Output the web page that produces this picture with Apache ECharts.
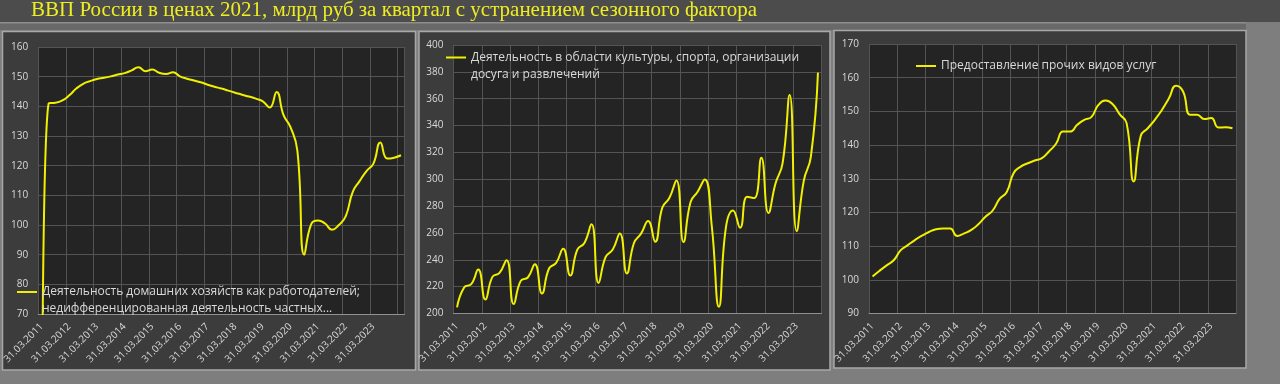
<!DOCTYPE html>
<html>
<head>
<meta charset="utf-8">
<script src="https://cdn.jsdelivr.net/npm/echarts@6/dist/echarts.min.js"></script>
<style>
html,body{margin:0;padding:0;background:#7e7e7e;}
#chart{width:1280px;height:384px;}
</style>
</head>
<body>
<div id="chart"></div>
<script>
// ---- data ----
const titleText = 'ВВП России в ценах 2021, млрд руб за квартал с устранением сезонного фактора';
const years = [2011,2012,2013,2014,2015,2016,2017,2018,2019,2020,2021,2022,2023,2024];
const quarterEnds = ['31.03','30.06','30.09','31.12'];

const name1 = 'Деятельность домашних хозяйств как работодателей; недифференцированная деятельность частных...';
const name2 = 'Деятельность в области культуры, спорта, организации досуга и развлечений';
const name3 = 'Предоставление прочих видов услуг';

const values1 = [0, 141, 141.2, 142, 143.7, 146, 147.6, 148.5, 149.2, 149.6, 150.1, 150.7, 151.2, 152.1, 153.2, 151.8,
  152.4, 151.3, 150.9, 151.5, 150.1, 149.3, 148.7, 148.1, 147.3, 146.6, 146, 145.3, 144.6, 143.9, 143.3, 142.6,
  141.7, 139.6, 144.8, 137, 133, 125, 90, 100.3, 101.5, 100.5, 98.4, 100, 103, 111.1, 114.8, 118.2, 120.7, 127.8,
  122.4, 122.7, 123.5];
const values2 = [204.5, 219.4, 221.8, 232.7, 210.4, 227.3, 230.2, 239.7, 207, 224.3, 226.8, 236.7, 214.9, 233.5, 237.7, 248.3,
  228.3, 247.6, 252.5, 266.4, 222.8, 242.1, 247.6, 259.5, 229.8, 252.5, 259.5, 268.9, 253.5, 278.8, 286, 299,
  253.3, 283, 290.7, 299.9, 265, 205, 264.4, 276.8, 263.9, 287, 286, 316, 274.8, 296.9, 311.8, 362.7,
  261.4, 299, 316.8, 379.4];
const values3 = [101, 102.7, 104.3, 105.8, 108.8, 110.3, 111.8, 113.1, 114.2, 115, 115.2, 115.2, 113, 113.8, 114.8, 116.5,
  118.7, 120.5, 124, 126, 131.7, 133.6, 134.6, 135.4, 136.1, 138.1, 140.4, 144, 144, 146, 147.5, 148.3,
  151.9, 153.2, 152.2, 149.2, 146.5, 129.2, 142.7, 145, 147.5, 150.4, 153.9, 157.6, 155.9, 149, 149, 147.7,
  148, 145.2, 145.3, 145];

const yMin = [70, 200, 90];
const yMax = [160, 400, 170];
const yStep = [10, 20, 10];

// categories (quarter-end dates)
const allCats = [];
years.forEach(y => quarterEnds.forEach(q => allCats.push(q + '.' + y)));
const cats1 = allCats.slice(0, values1.length);
const cats2 = allCats.slice(0, values2.length);
const cats3 = allCats.slice(0, values3.length);

// ---- styles ----
const LINE = '#f0f000';
const LABEL = '#d9d9d9';
const GRIDLINE = '#545454';
const FONT = 'Open Sans';

const grids = [
  {left: 38, top: 47, width: 366.5, height: 267},
  {left: 453.5, top: 45, width: 368, height: 268.5},
  {left: 869, top: 44, width: 367, height: 269.5}
];

function xAxisCfg(i, cats, maxLabelIdx) {
  return {
    gridIndex: i, type: 'category', data: cats, boundaryGap: true,
    axisLine: {show: true, lineStyle: {color: '#909090', width: 1}},
    axisTick: {show: false, interval: 3},
    splitLine: {show: true, interval: 3, lineStyle: {color: GRIDLINE, width: 1}},
    axisLabel: {
      interval: (idx) => idx % 4 === 0 && idx <= maxLabelIdx,
      rotate: 45, color: LABEL, fontSize: 10, fontFamily: FONT, margin: 11
    }
  };
}
function yAxisCfg(i) {
  return {
    gridIndex: i, type: 'value', min: yMin[i], max: yMax[i], interval: yStep[i],
    axisLine: {show: false}, axisTick: {show: false},
    splitLine: {show: true, lineStyle: {color: GRIDLINE, width: 1}},
    axisLabel: {color: LABEL, fontSize: 10, fontFamily: FONT, margin: 10}
  };
}
function seriesCfg(i, name, data) {
  return {
    type: 'line', name: name, xAxisIndex: i, yAxisIndex: i, data: data,
    smooth: 0.5, symbol: 'none', clip: true,
    lineStyle: {color: LINE, width: 2}, itemStyle: {color: LINE}
  };
}
const legendText = {color: LABEL, fontSize: 12, fontFamily: FONT, lineHeight: 17};

const chart = echarts.init(document.getElementById('chart'), null, {renderer: 'canvas'});
chart.setOption({
  backgroundColor: '#7e7e7e',
  animation: false,
  title: {
    text: titleText, left: 31, top: 0, padding: 0,
    textStyle: {color: '#eeee22', fontFamily: 'Liberation Serif', fontSize: 21, fontWeight: 'normal', lineHeight: 21}
  },
  graphic: [
    {type: 'rect', z: -10, silent: true, shape: {x: 0, y: 0, width: 1280, height: 22}, style: {fill: '#4c4c4c'}},
    {type: 'rect', z: -10, silent: true, shape: {x: 0, y: 22, width: 1246, height: 8}, style: {fill: '#696969'}},
    {type: 'rect', z: -9, silent: true, shape: {x: 0, y: 22, width: 1246, height: 1.5}, style: {fill: '#8e8e8e'}},
    {type: 'rect', z: -9, silent: true, shape: {x: 2.5, y: 31.5, width: 413, height: 338.5}, style: {fill: '#3c3c3c', stroke: '#a8a8a8', lineWidth: 1.5}},
    {type: 'rect', z: -9, silent: true, shape: {x: 419, y: 31.5, width: 411, height: 338.5}, style: {fill: '#3c3c3c', stroke: '#a8a8a8', lineWidth: 1.5}},
    {type: 'rect', z: -9, silent: true, shape: {x: 834, y: 30.5, width: 412, height: 337.5}, style: {fill: '#3c3c3c', stroke: '#a8a8a8', lineWidth: 1.5}}
  ],
  grid: grids.map(g => Object.assign({show: true, backgroundColor: '#242424', borderWidth: 0, containLabel: false}, g)),
  xAxis: [xAxisCfg(0, cats1, 48), xAxisCfg(1, cats2, 48), xAxisCfg(2, cats3, 48)],
  yAxis: [yAxisCfg(0), yAxisCfg(1), yAxisCfg(2)],
  legend: [
    {data: [name1], left: 17, top: 266.5, padding: 0, icon: 'rect', itemWidth: 20, itemHeight: 2,
     formatter: n => '\n' + n.replace('; ', ';\n'),
     textStyle: legendText},
    {data: [name2], left: 446, top: 32, padding: 0, icon: 'rect', itemWidth: 20, itemHeight: 2,
     formatter: n => '\n' + n.replace('организации ', 'организации\n'),
     textStyle: legendText},
    {data: [name3], left: 916, top: 57.5, padding: 0, icon: 'rect', itemWidth: 20, itemHeight: 2,
     textStyle: legendText}
  ],
  series: [seriesCfg(0, name1, values1), seriesCfg(1, name2, values2), seriesCfg(2, name3, values3)]
});
</script>
</body>
</html>
